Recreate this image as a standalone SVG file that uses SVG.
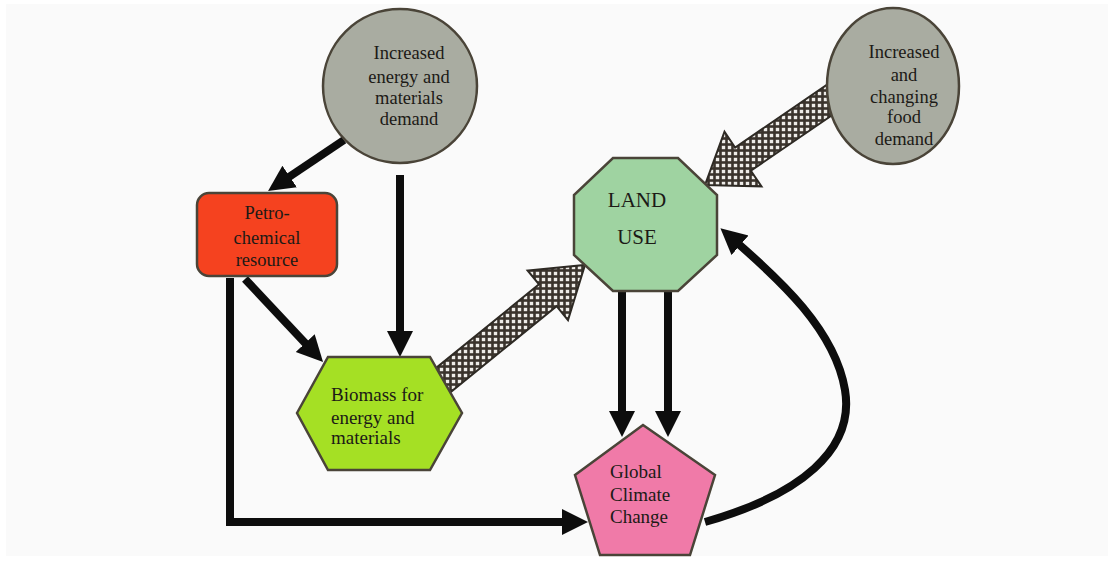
<svg xmlns="http://www.w3.org/2000/svg" width="1114" height="562" viewBox="0 0 1114 562">
<style>
text{font-family:"Liberation Serif","Times New Roman",serif;fill:#1c1a16;font-size:18.5px;}
.c{text-anchor:middle;}
.blk{fill:none;stroke:#0d0d0d;stroke-width:8;marker-end:url(#ah);}
.node{stroke:#4a4438;stroke-width:2.5;}
.hatch{fill:url(#hp);stroke:#2e2a24;stroke-width:2;}
</style>
<defs>
<marker id="ah" markerUnits="userSpaceOnUse" markerWidth="28" markerHeight="28" viewBox="0 0 28 28" refX="8" refY="13" orient="auto">
<path d="M0,0 L26,13 L0,26 z" fill="#0d0d0d"/>
</marker>
<pattern id="hp" patternUnits="userSpaceOnUse" width="6" height="6">
<rect width="6" height="6" fill="#3a332c"/>
<rect x="1.8" y="1.8" width="3.4" height="3.4" fill="#eeece8"/>
</pattern>
</defs>
<rect x="0" y="0" width="1114" height="562" fill="#ffffff"/>
<rect x="6" y="4" width="1102" height="552" fill="#fafafa"/>
<g id="connectors">
<polygon class="hatch" points="432.2,371.1 539,284.4 527.6,270.5 585,265 568,320.1 556.6,306.2 449.8,392.9"/>
<polygon class="hatch" points="842.1,74.4 735.1,147.5 724.5,131.8 705,185 761.5,186.4 750.9,170.7 857.9,97.6"/>
<path class="blk" d="M344,140 L283,181"/>
<path class="blk" d="M400,175 L400,339"/>
<path class="blk" d="M245,279 L310.7,348.9"/>
<path class="blk" d="M230,278 L230,522 L570,522"/>
<path class="blk" d="M622,292 L622,419"/>
<path class="blk" d="M668,292 L668,419"/>
<path class="blk" d="M705,522 C800,495 855,450 845,390 C835,330 780,280 734,240"/>
</g>
<g id="energy-demand">
<circle class="node" cx="400" cy="86" r="77" fill="#a9aca1"/>
<text class="c" x="409" y="59">Increased</text>
<text class="c" x="409" y="83">energy and</text>
<text class="c" x="409" y="104">materials</text>
<text class="c" x="409" y="125">demand</text>
</g>
<g id="food-demand">
<ellipse class="node" cx="893" cy="86" rx="66" ry="78" fill="#a9aca1"/>
<text class="c" x="904" y="58">Increased</text>
<text class="c" x="904" y="81">and</text>
<text class="c" x="904" y="103">changing</text>
<text class="c" x="904" y="123">food</text>
<text class="c" x="904" y="145">demand</text>
</g>
<g id="petrochemical">
<rect class="node" x="197" y="193" width="140" height="83" rx="12" fill="#f5421f"/>
<text class="c" x="267" y="219">Petro-</text>
<text class="c" x="267" y="244">chemical</text>
<text class="c" x="267" y="266">resource</text>
</g>
<g id="land-use">
<polygon class="node" points="613,158 678,158 717,195 717,255 678,291 613,291 574,255 574,195" fill="#9fd3a1"/>
<text class="c" x="637" y="207" style="font-size:21px">LAND</text>
<text class="c" x="637" y="244" style="font-size:21px">USE</text>
</g>
<g id="biomass">
<polygon class="node" points="297,413 328,357 430,357 462,413 430,470 328,470" fill="#a5e024"/>
<text x="331" y="401" style="font-size:19px">Biomass for</text>
<text x="331" y="424" style="font-size:19px">energy and</text>
<text x="331" y="444" style="font-size:19px">materials</text>
</g>
<g id="climate-change">
<polygon class="node" points="643,425 715,475 690,555 600,555 575,475" fill="#f07aa8"/>
<text x="610" y="478" style="font-size:19px">Global</text>
<text x="610" y="501" style="font-size:19px">Climate</text>
<text x="610" y="523" style="font-size:19px">Change</text>
</g>
</svg>
